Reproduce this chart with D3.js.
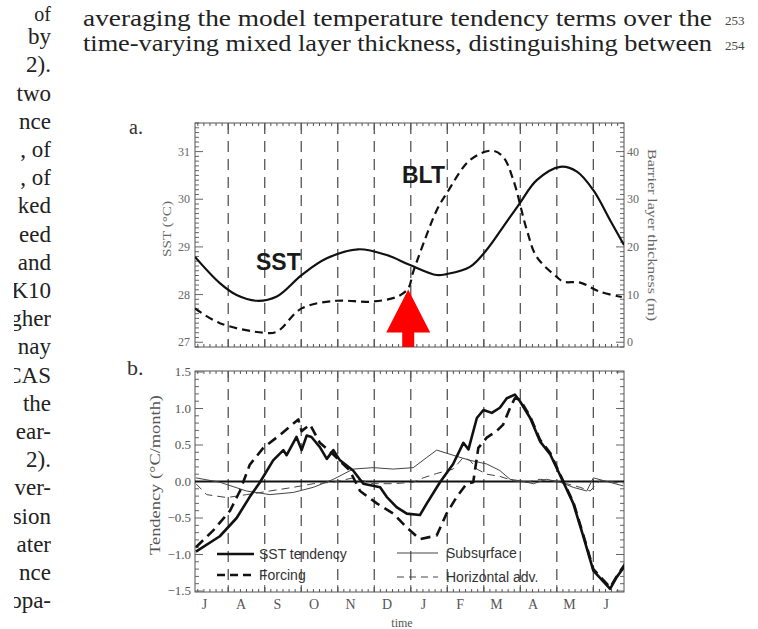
<!DOCTYPE html>
<html><head><meta charset="utf-8">
<script src="https://cdn.jsdelivr.net/npm/d3@7"></script>
<style>html,body{margin:0;padding:0;background:#fff;}svg{display:block}</style>
</head><body>
<script>
// ---- page text around the figure ----
const bodyLines = ["averaging the model temperature tendency terms over the",
                   "time-varying mixed layer thickness, distinguishing between"];
const lineNumbers = ["253", "254"];
const marginWords = ["of", "by", "2).", "two", "nce", ", of", ", of", "ked", "eed", "and", "K10",
                     "gher", "nay", "CAS", "the", "ear-", "2).", "ver-", "sion", "ater", "nce", "opa-"];

// ---- axes ----
const monthLabels = ["J", "A", "S", "O", "N", "D", "J", "F", "M", "A", "M", "J"];
const sstTicks = [27, 28, 29, 30, 31];
const bltTicks = [0, 10, 20, 30, 40];
const tendTicks = [-1.5, -1.0, -0.5, 0.0, 0.5, 1.0, 1.5];

// ---- panel a: SST (degC) and barrier layer thickness (m); time in months since 1 July ----
const sstMonth = [0.09, 0.77, 1.23, 1.78, 2.33, 3.01, 3.70, 4.56, 5.34, 5.98, 6.71, 6.98, 7.62, 8.08, 8.53, 8.99, 9.45, 10.09, 10.55, 11.0, 11.46, 11.84];
const sstValue = [28.79, 28.24, 27.99, 27.87, 27.96, 28.41, 28.76, 28.95, 28.83, 28.62, 28.41, 28.43, 28.58, 28.94, 29.42, 29.92, 30.40, 30.68, 30.58, 30.19, 29.56, 29.04];

const bltMonth = [0.09, 0.77, 1.96, 2.33, 3.01, 3.97, 4.88, 5.61, 5.93, 6.06, 6.25, 6.71, 6.98, 7.62, 8.22, 8.53, 8.81, 9.18, 9.45, 10.0, 10.18, 10.64, 11.18, 11.78];
const bltValue = [7.1, 4.0, 2.0, 2.2, 7.1, 8.7, 8.5, 9.5, 11.3, 14.6, 18.7, 27.7, 31.2, 38.2, 40.2, 38.9, 34.0, 23.5, 17.9, 13.7, 12.7, 12.5, 10.6, 9.5];

// onset of the barrier layer, marked with an arrow
const arrowMonth = 5.93, arrowBLT = 11.3;

// ---- panel b: tendency terms (degC/month) ----
const tendMonth = [0.115, 0.77, 1.23, 1.59, 1.87, 2.23, 2.51, 2.60, 2.87, 3.01, 3.15, 3.28, 3.51, 3.70, 3.88, 4.06, 4.42, 4.70, 5.16, 5.34, 5.61, 5.89, 6.25, 6.44, 6.80, 7.16, 7.44, 7.58, 7.81, 7.99, 8.22, 8.44, 8.63, 8.85, 8.99, 9.27, 9.54, 9.82, 10.18, 10.45, 10.73, 11.0, 11.46, 11.64, 11.87];
const tendValue = [-0.96, -0.75, -0.50, -0.21, -0.01, 0.29, 0.43, 0.36, 0.61, 0.43, 0.63, 0.61, 0.47, 0.31, 0.43, 0.29, 0.15, -0.03, -0.08, -0.21, -0.35, -0.44, -0.46, -0.30, -0.01, 0.24, 0.53, 0.44, 0.87, 0.98, 0.94, 1.01, 1.14, 1.19, 1.10, 0.87, 0.55, 0.37, -0.01, -0.30, -0.76, -1.22, -1.47, -1.31, -1.15];

const forcMonth = [0.115, 0.59, 1.05, 1.32, 1.59, 1.96, 2.42, 2.92, 3.01, 3.24, 3.51, 3.88, 4.33, 4.61, 5.07, 5.52, 5.89, 6.25, 6.71, 6.98, 7.26, 7.53, 7.71, 7.85, 8.08, 8.35, 8.53, 8.72, 8.85, 8.99, 9.27, 9.54, 9.82, 10.18, 10.45, 10.73, 11.0, 11.46, 11.64, 11.87];
const forcValue = [-0.90, -0.67, -0.40, -0.13, 0.23, 0.46, 0.64, 0.85, 0.69, 0.78, 0.53, 0.37, 0.15, -0.13, -0.30, -0.44, -0.63, -0.79, -0.74, -0.44, -0.21, -0.03, -0.01, 0.46, 0.60, 0.69, 0.78, 1.01, 1.14, 1.12, 0.89, 0.57, 0.39, 0.0, -0.28, -0.74, -1.20, -1.45, -1.30, -1.13];

const subMonth = [0.115, 0.77, 1.50, 2.14, 2.78, 3.33, 3.88, 4.42, 4.97, 5.52, 6.07, 6.44, 6.71, 7.16, 7.62, 8.08, 8.44, 8.72, 8.99, 9.36, 9.72, 10.09, 10.45, 10.82, 11.0, 11.37, 11.82];
const subValue = [0.05, -0.01, -0.13, -0.18, -0.15, -0.08, 0.03, 0.17, 0.19, 0.17, 0.19, 0.33, 0.43, 0.36, 0.29, 0.24, 0.15, 0.03, 0.01, -0.03, 0.03, -0.01, -0.08, -0.13, 0.05, 0.0, -0.06];

const hadvMonth = [0.115, 0.41, 0.96, 1.50, 2.14, 2.78, 3.33, 3.88, 4.42, 4.97, 5.52, 6.07, 6.34, 6.71, 7.16, 7.44, 7.62, 7.81, 8.08, 8.44, 8.81, 9.18, 9.54, 9.90, 10.27, 10.64, 10.91, 11.18, 11.46, 11.82];
const hadvValue = [-0.03, -0.18, -0.22, -0.18, -0.13, -0.08, -0.03, -0.01, 0.05, -0.03, -0.03, -0.01, 0.05, 0.11, 0.17, 0.33, 0.29, 0.17, 0.10, 0.07, 0.01, -0.01, 0.03, 0.01, -0.03, -0.08, -0.13, 0.01, 0.0, -0.03];

const legendNames = ["SST tendency", "Forcing", "Subsurface", "Horizontal adv."];

// ---------------------------------------------------------------
const W = 758, H = 629;
const svg = d3.select("body").append("svg").attr("width", W).attr("height", H)
  .style("background", "#fff");

const SERIF = "'Liberation Serif', 'DejaVu Serif', serif";
const SANS = "'Liberation Sans', Arial, sans-serif";
const INK = "#222", AX = "#555";

// body text
bodyLines.forEach((t, i) => {
  svg.append("text").attr("x", 83).attr("y", 26 + i * 25)
    .attr("font-family", SERIF).attr("font-size", 23).attr("fill", INK)
    .attr("textLength", 629).attr("lengthAdjust", "spacingAndGlyphs").text(t);
  svg.append("text").attr("x", 725).attr("y", 25 + i * 25)
    .attr("font-family", SERIF).attr("font-size", 13).attr("fill", "#444").text(lineNumbers[i]);
});

// left column, cut at the page gutter
svg.append("clipPath").attr("id", "gutter").append("rect")
  .attr("x", 14).attr("y", 0).attr("width", 60).attr("height", H);
const margin = svg.append("g").attr("clip-path", "url(#gutter)");
marginWords.forEach((t, i) => {
  margin.append("text").attr("x", 51).attr("y", (i === 0 ? 21 : 16) + i * 28.2)
    .attr("text-anchor", "end").attr("font-family", SERIF).attr("font-size", i === 0 ? 20 : 23)
    .attr("fill", INK).text(t);
});

// shared time axis
const x = d3.scaleLinear().domain([0.09, 11.84]).range([195, 624]);
const xl = x.range()[0], xr = x.range()[1];

// ---- panel a ----
const ySST = d3.scaleLinear().domain([26.9, 31.6]).range([347, 123]);
const yBLT = d3.scaleLinear().domain([-1, 46]).range([347, 123]);
const [aB, aT] = ySST.range();

function frame(g, top, bottom) {
  g.append("rect").attr("x", xl).attr("y", top).attr("width", xr - xl).attr("height", bottom - top)
    .attr("fill", "none").attr("stroke", AX).attr("stroke-width", 1);
  // month boundaries
  d3.range(1, 12).forEach(k => {
    g.append("line").attr("x1", x(k)).attr("x2", x(k)).attr("y1", top).attr("y2", bottom)
      .attr("stroke", "#555").attr("stroke-width", 1.3).attr("stroke-dasharray", "11,7");
  });
  // minor time ticks, top and bottom
  d3.range(0, 12.01, 1 / 6).filter(m => x(m) > xl + 1 && x(m) < xr - 1).forEach(m => {
    const big = Math.abs(m - Math.round(m)) < 1e-6;
    const len = big ? 7 : 3;
    g.append("line").attr("x1", x(m)).attr("x2", x(m)).attr("y1", top).attr("y2", top + len)
      .attr("stroke", AX).attr("stroke-width", 1);
    g.append("line").attr("x1", x(m)).attr("x2", x(m)).attr("y1", bottom).attr("y2", bottom - len)
      .attr("stroke", AX).attr("stroke-width", 1);
  });
}

const ga = svg.append("g");
frame(ga, aT, aB);

// vertical minor ticks
function vticks(g, scale, step, majorEvery, side) {
  const [d0, d1] = scale.domain();
  const n0 = Math.ceil(d0 / step), n1 = Math.floor(d1 / step);
  for (let n = n0; n <= n1; n++) {
    const v = n * step, yy = scale(v);
    const major = Math.abs(n % majorEvery) === 0;
    const len = major ? 8 : 4;
    const x0 = side === "left" ? xl : xr;
    const x1 = side === "left" ? xl + len : xr - len;
    g.append("line").attr("x1", x0).attr("x2", x1).attr("y1", yy).attr("y2", yy)
      .attr("stroke", AX).attr("stroke-width", 0.9);
  }
}
vticks(ga, ySST, 0.1, 10, "left");
vticks(ga, yBLT, 1, 10, "right");

ga.selectAll(".lt").data(sstTicks).join("text")
  .attr("x", xl - 5).attr("y", d => ySST(d) + 4).attr("text-anchor", "end")
  .attr("font-family", SERIF).attr("font-size", 12).attr("fill", "#666").text(d => d);
ga.selectAll(".rt").data(bltTicks).join("text")
  .attr("x", xr + 3).attr("y", d => yBLT(d) + 4)
  .attr("font-family", SERIF).attr("font-size", 12).attr("fill", "#666").text(d => d);

ga.append("text").attr("transform", `translate(171,229) rotate(-90)`).attr("text-anchor", "middle")
  .attr("font-family", SERIF).attr("font-size", 12).attr("fill", "#666")
  .attr("textLength", 56).attr("lengthAdjust", "spacingAndGlyphs").text("SST (°C)");
ga.append("text").attr("transform", `translate(648,235) rotate(90)`).attr("text-anchor", "middle")
  .attr("font-family", SERIF).attr("font-size", 13).attr("fill", "#666")
  .attr("textLength", 172).attr("lengthAdjust", "spacingAndGlyphs").text("Barrier layer thickness (m)");

const curve = d3.curveCatmullRom.alpha(0.5);
svg.append("clipPath").attr("id", "clipA").append("rect")
  .attr("x", xl).attr("y", aT).attr("width", xr - xl).attr("height", aB - aT);

ga.append("path").attr("clip-path", "url(#clipA)")
  .attr("d", d3.line().curve(curve).x((d, i) => x(sstMonth[i])).y(d => ySST(d))(sstValue))
  .attr("fill", "none").attr("stroke", "#111").attr("stroke-width", 2.2);
ga.append("path").attr("clip-path", "url(#clipA)")
  .attr("d", d3.line().curve(curve).x((d, i) => x(bltMonth[i])).y(d => yBLT(d))(bltValue))
  .attr("fill", "none").attr("stroke", "#111").attr("stroke-width", 2.2).attr("stroke-dasharray", "8,5");

ga.append("text").attr("x", 256).attr("y", 270).attr("font-family", SANS).attr("font-weight", "bold")
  .attr("font-size", 23).attr("fill", "#1a1a1a").text("SST");
ga.append("text").attr("x", 402).attr("y", 183).attr("font-family", SANS).attr("font-weight", "bold")
  .attr("font-size", 23).attr("fill", "#1a1a1a").text("BLT");

// arrow pointing at the barrier layer onset
{
  const tx = x(arrowMonth), ty = yBLT(arrowBLT) + 1;
  const headY = ty + 43, hw = 22, sw = 6;
  const pts = [[tx, ty], [tx + hw, headY], [tx + sw, headY], [tx + sw, aB], [tx - sw, aB], [tx - sw, headY], [tx - hw, headY]];
  ga.append("polygon").attr("points", pts.map(p => p.join(",")).join(" ")).attr("fill", "#ff0000");
}

ga.append("text").attr("x", 129).attr("y", 134).attr("font-family", SERIF).attr("font-size", 20)
  .attr("fill", "#333").text("a.");

// ---- panel b ----
const yT = d3.scaleLinear().domain([-1.5, 1.5]).range([591, 372]);
const bT = 371, bB = 592;
const gb = svg.append("g");
frame(gb, bT, bB);
vticks(gb, yT, 0.1, 5, "left");
vticks(gb, yT, 0.1, 5, "right");

gb.selectAll(".tt").data(tendTicks).join("text")
  .attr("x", xl - 4).attr("y", d => yT(d) + 4).attr("text-anchor", "end")
  .attr("font-family", SERIF).attr("font-size", 13).attr("fill", "#555").text(d => d3.format(".1f")(d));
gb.append("text").attr("transform", `translate(160,475) rotate(-90)`).attr("text-anchor", "middle")
  .attr("font-family", SERIF).attr("font-size", 14).attr("fill", "#555")
  .attr("textLength", 160).attr("lengthAdjust", "spacingAndGlyphs").text("Tendency (°C/month)");

gb.selectAll(".ml").data(monthLabels).join("text")
  .attr("x", (d, i) => x(i + 0.35)).attr("y", 609).attr("text-anchor", "middle")
  .attr("font-family", SERIF).attr("font-size", 14).attr("fill", "#555").text(d => d);
gb.append("text").attr("x", 402).attr("y", 627).attr("text-anchor", "middle")
  .attr("font-family", SERIF).attr("font-size", 12).attr("fill", "#555").text("time");

svg.append("clipPath").attr("id", "clipB").append("rect")
  .attr("x", xl).attr("y", bT).attr("width", xr - xl).attr("height", bB - bT);

// zero line
gb.append("line").attr("x1", xl).attr("x2", xr).attr("y1", yT(0)).attr("y2", yT(0))
  .attr("stroke", "#111").attr("stroke-width", 2);

const lin = d3.line().curve(d3.curveLinear);
function series(months, vals, width, dash, color) {
  gb.append("path").attr("clip-path", "url(#clipB)")
    .attr("d", lin.x((d, i) => x(months[i])).y(d => yT(d))(vals))
    .attr("fill", "none").attr("stroke", color).attr("stroke-width", width)
    .attr("stroke-linejoin", "round").attr("stroke-dasharray", dash);
}
series(subMonth, subValue, 1, null, "#444");
series(hadvMonth, hadvValue, 1, "8,5", "#444");
series(forcMonth, forcValue, 2.6, "10,6", "#111");
series(tendMonth, tendValue, 2.6, null, "#111");

// legend
const legendStyle = [
  { w: 2.6, dash: null, lx: 217, ly: 554 },
  { w: 2.6, dash: "8,5", lx: 217, ly: 575 },
  { w: 1, dash: null, lx: 397, ly: 553 },
  { w: 1, dash: "7,5", lx: 397, ly: 577 }
];
legendNames.forEach((name, i) => {
  const s = legendStyle[i];
  const len = i < 2 ? 37 : 41;
  gb.append("line").attr("x1", s.lx).attr("x2", s.lx + len).attr("y1", s.ly).attr("y2", s.ly)
    .attr("stroke", i < 2 ? "#111" : "#444").attr("stroke-width", s.w).attr("stroke-dasharray", s.dash);
  gb.append("text").attr("x", s.lx + len + (i < 2 ? 5 : 8)).attr("y", s.ly + 5)
    .attr("font-family", SANS).attr("font-size", 14).attr("fill", "#333").text(name);
});

gb.append("text").attr("x", 127).attr("y", 375).attr("font-family", SERIF).attr("font-size", 22)
  .attr("fill", "#333").text("b.");
</script>
</body></html>
